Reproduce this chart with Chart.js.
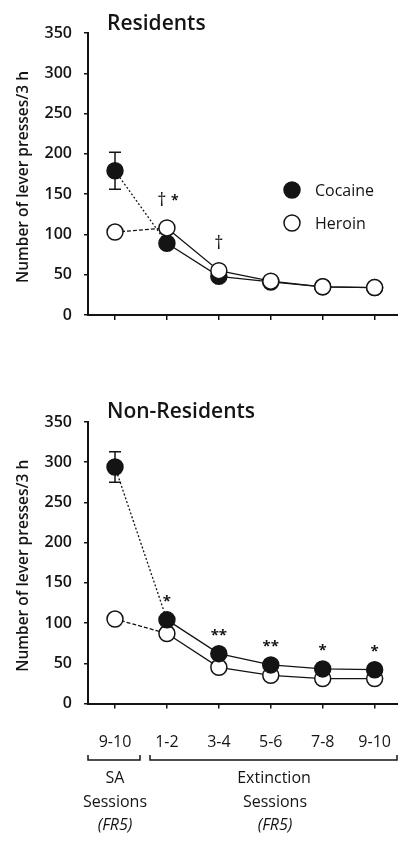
<!DOCTYPE html>
<html>
<head>
<meta charset="utf-8">
<script src="https://cdn.jsdelivr.net/npm/chart.js@4/dist/chart.umd.min.js"></script>
<style>
  html, body { margin: 0; padding: 0; background: #fff; }
  body { width: 398px; height: 841px; position: relative; overflow: hidden; }
  .panel { position: absolute; left: 0; width: 398px; }
  canvas { display: block; }
</style>
</head>
<body>
<div class="panel" style="top:0;height:345px"><canvas id="residents" width="398" height="345"></canvas></div>
<div class="panel" style="top:380px;height:461px"><canvas id="nonResidents" width="398" height="461"></canvas></div>
<script>
// Session bins: last 2 self-administration sessions, then extinction session pairs
const sessionLabels = ['9-10', '1-2', '3-4', '5-6', '7-8', '9-10'];
const yTickValues = [0, 50, 100, 150, 200, 250, 300, 350];

// Residents: mean lever presses per 3 h
const residentsCocaine = [179, 89, 48, 41, 35, 34];
const residentsHeroin = [103, 108, 55, 42, 35, 34];
const residentsCocaineSem = [23, null, null, null, null, null];
const residentsNotes = ['', '†*', '†', '', '', ''];

// Non-residents: mean lever presses per 3 h
const nonResCocaine = [294, 104, 62, 48, 43, 42];
const nonResHeroin = [105, 87, 45, 35, 31, 31];
const nonResCocaineSem = [19, null, null, null, null, null];
const nonResNotes = ['', '*', '**', '**', '*', '*'];

const INK = '#141414';
const FONT = '"Open Sans", "Liberation Sans", sans-serif';

function seriesPoints(values) {
  return values.map((v, i) => ({ x: i, y: v }));
}

function makePanel(canvasId, cfg) {
  const cocaineSet = {
    label: 'Cocaine',
    data: seriesPoints(cfg.cocaine),
    borderColor: INK,
    backgroundColor: INK,
    pointBackgroundColor: INK,
    pointBorderColor: INK,
    pointRadius: 8,
    pointBorderWidth: 1.5,
    borderWidth: 1.3,
    tension: 0,
    segment: { borderDash: ctx => ctx.p0DataIndex === 0 ? [2, 2] : undefined }
  };
  const heroinSet = {
    label: 'Heroin',
    data: seriesPoints(cfg.heroin),
    borderColor: INK,
    backgroundColor: '#fff',
    pointBackgroundColor: '#fff',
    pointBorderColor: INK,
    pointRadius: 8,
    pointBorderWidth: 1.5,
    borderWidth: 1.3,
    tension: 0,
    segment: { borderDash: ctx => ctx.p0DataIndex === 0 ? [4, 2] : undefined }
  };
  // first dataset is painted last (on top)
  const datasets = cfg.heroinOnTop ? [heroinSet, cocaineSet] : [cocaineSet, heroinSet];

  const decor = {
    id: 'decor_' + canvasId,
    beforeDatasetsDraw(chart) {
      const ctx = chart.ctx, xs = chart.scales.x, ys = chart.scales.y;
      ctx.save();
      ctx.strokeStyle = INK;
      ctx.lineWidth = 1.5;
      cfg.cocaineSem.forEach((s, i) => {
        if (s == null) return;
        const x = xs.getPixelForValue(i);
        const yt = ys.getPixelForValue(cfg.cocaine[i] + s);
        const yb = ys.getPixelForValue(cfg.cocaine[i] - s);
        ctx.beginPath();
        ctx.moveTo(x, yt); ctx.lineTo(x, yb);
        ctx.moveTo(x - 6, yt); ctx.lineTo(x + 6, yt);
        ctx.moveTo(x - 6, yb); ctx.lineTo(x + 6, yb);
        ctx.stroke();
      });
      ctx.restore();
    },
    afterDraw(chart) {
      const ctx = chart.ctx, xs = chart.scales.x, ys = chart.scales.y;
      ctx.save();
      ctx.fillStyle = INK;
      // panel title
      ctx.font = '600 21px ' + FONT;
      ctx.textAlign = 'left';
      ctx.textBaseline = 'alphabetic';
      ctx.fillText(cfg.title, 107, cfg.titleBaseline);

      // y-axis title
      ctx.save();
      ctx.translate(24, (chart.chartArea.top + chart.chartArea.bottom) / 2 + 3);
      ctx.rotate(-Math.PI / 2);
      ctx.font = '600 15.5px ' + FONT;
      ctx.textAlign = 'center';
      ctx.textBaseline = 'middle';
      ctx.fillText('Number of lever presses/3 h', 0, 0);
      ctx.restore();

      // significance marks above each session bin
      cfg.notes.forEach((note, i) => {
        if (!note) return;
        const x = xs.getPixelForValue(i);
        const top = Math.min(ys.getPixelForValue(cfg.cocaine[i]), ys.getPixelForValue(cfg.heroin[i]));
        const cy = top - cfg.noteOffset;
        ctx.textAlign = 'center';
        ctx.textBaseline = 'alphabetic';
        if (note.startsWith('†')) {
          const hasStar = note.includes('*');
          ctx.font = '18px ' + FONT;
          ctx.fillText('†', hasStar ? x - 5 : x, cy + 18 * 0.3);
          if (hasStar) {
            ctx.font = 'bold 14px ' + FONT;
            ctx.fillText('*', x + 8, cy - 4 + 14 * 0.56);
          }
        } else {
          ctx.font = 'bold 15px ' + FONT;
          ctx.fillText(note, x, cy + 15 * 0.56);
        }
      });

      // legend
      if (cfg.legend) {
        const lx = 292;
        [['Cocaine', INK, 190], ['Heroin', '#fff', 223]].forEach(([name, fill, ly]) => {
          ctx.beginPath();
          ctx.arc(lx, ly, 8, 0, Math.PI * 2);
          ctx.fillStyle = fill;
          ctx.fill();
          ctx.lineWidth = 1.5;
          ctx.strokeStyle = INK;
          ctx.stroke();
          ctx.fillStyle = INK;
          ctx.font = '500 16px ' + FONT;
          ctx.textAlign = 'left';
          ctx.textBaseline = 'middle';
          ctx.fillText(name, 315, ly + 1);
        });
      }

      // session-phase brackets under the x axis
      if (cfg.brackets) {
        const by = 380;
        ctx.strokeStyle = INK;
        ctx.lineWidth = 1.5;
        ctx.beginPath();
        ctx.moveTo(88, by - 5); ctx.lineTo(88, by); ctx.lineTo(140, by); ctx.lineTo(140, by - 5);
        ctx.moveTo(150, by - 5); ctx.lineTo(150, by); ctx.lineTo(397, by); ctx.lineTo(397, by - 5);
        ctx.stroke();
        ctx.fillStyle = INK;
        ctx.textAlign = 'center';
        ctx.textBaseline = 'middle';
        ctx.font = '500 16px ' + FONT;
        ctx.fillText('SA', 115, 398);
        ctx.fillText('Sessions', 115, 422);
        ctx.fillText('Extinction', 274, 398);
        ctx.fillText('Sessions', 275, 422);
        ctx.font = 'italic 500 16px ' + FONT;
        ctx.fillText('(FR5)', 115, 445);
        ctx.fillText('(FR5)', 275, 445);
      }
      ctx.restore();
    }
  };

  return new Chart(document.getElementById(canvasId), {
    type: 'line',
    data: { datasets },
    plugins: [decor],
    options: {
      responsive: false,
      animation: false,
      events: [],
      layout: { autoPadding: false, padding: { top: cfg.padTop, left: 0, right: 0, bottom: 0 } },
      plugins: { legend: { display: false }, tooltip: { enabled: false }, title: { display: false } },
      scales: {
        x: {
          type: 'linear',
          min: -0.52,
          max: 5.45,
          afterBuildTicks: s => { s.ticks = sessionLabels.map((_, i) => ({ value: i })); },
          afterFit: s => { s.height = cfg.xAxisHeight; s.paddingLeft = 0; s.paddingRight = 0; },
          ticks: {
            display: cfg.showXLabels,
            autoSkip: false,
            maxRotation: 0,
            padding: 24,
            color: INK,
            font: { family: FONT, size: 16, weight: '500' },
            callback: v => sessionLabels[v]
          },
          grid: { display: true, drawOnChartArea: false, drawTicks: true, tickLength: 5, color: INK, lineWidth: 1.5 },
          border: { display: true, color: INK, width: 2 }
        },
        y: {
          type: 'linear',
          min: 0,
          max: 350,
          afterBuildTicks: s => { s.ticks = yTickValues.map(v => ({ value: v })); },
          afterFit: s => { s.width = 88; s.paddingTop = 0; s.paddingBottom = 0; },
          ticks: {
            padding: 12,
            color: INK,
            font: { family: FONT, size: 16, weight: '600' }
          },
          grid: { display: true, drawOnChartArea: false, drawTicks: true, tickLength: 4, color: INK, lineWidth: 1.5 },
          border: { display: true, color: INK, width: 2 }
        }
      }
    }
  });
}

makePanel('residents', {
  title: 'Residents', titleBaseline: 30,
  cocaine: residentsCocaine, heroin: residentsHeroin,
  cocaineSem: residentsCocaineSem, notes: residentsNotes, noteOffset: 27,
  heroinOnTop: true, legend: true, brackets: false, showXLabels: false,
  padTop: 33, xAxisHeight: 30
});

makePanel('nonResidents', {
  title: 'Non-Residents', titleBaseline: 38,
  cocaine: nonResCocaine, heroin: nonResHeroin,
  cocaineSem: nonResCocaineSem, notes: nonResNotes, noteOffset: 22,
  heroinOnTop: false, legend: false, brackets: true, showXLabels: true,
  padTop: 42, xAxisHeight: 137.5
});
</script>
</body>
</html>
